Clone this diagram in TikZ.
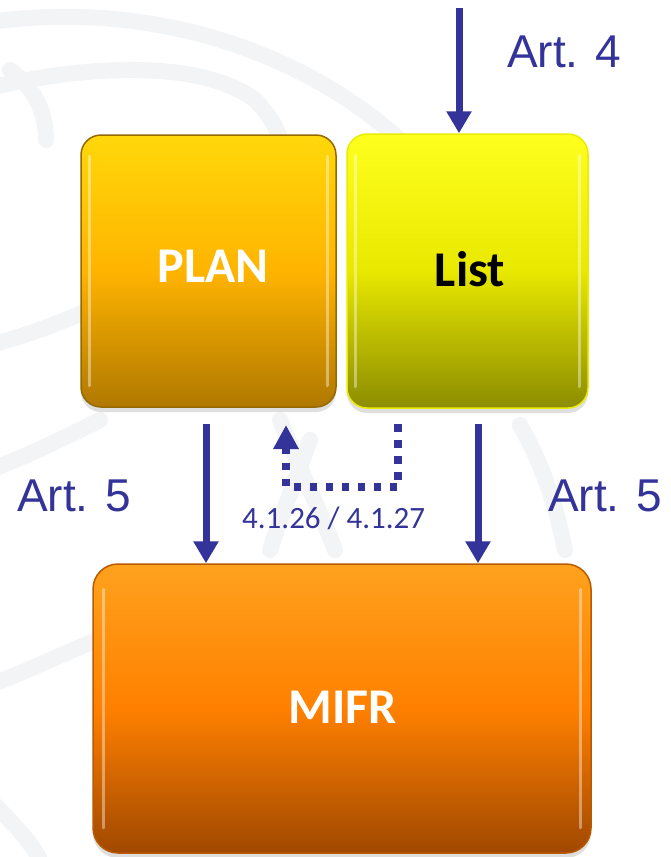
\documentclass[tikz,border=0pt]{standalone}
\usepackage{fontspec}
\setmainfont{Liberation Sans}
\newfontfamily\calfont{Carlito}
\usetikzlibrary{arrows.meta,shadows,calc}
\definecolor{artblue}{RGB}{51,51,153}
\definecolor{wm}{RGB}{243,244,246}
\definecolor{planT}{RGB}{255,216,10}
\definecolor{planM}{RGB}{255,180,0}
\definecolor{planB}{RGB}{176,120,0}
\definecolor{planD}{RGB}{150,105,0}
\definecolor{listT}{RGB}{255,255,30}
\definecolor{listM}{RGB}{232,232,0}
\definecolor{listB}{RGB}{140,140,0}
\definecolor{listD}{RGB}{235,235,0}
\definecolor{mifrT}{RGB}{255,162,30}
\definecolor{mifrM}{RGB}{255,128,0}
\definecolor{mifrB}{RGB}{160,72,0}
\definecolor{mifrD}{RGB}{185,90,0}
\tikzset{
  box/.style={rounded corners=20pt, line width=1.5pt, inner sep=0pt,
    drop shadow={shadow xshift=0pt, shadow yshift=-5pt, opacity=0.25}},
  boxtext/.style={font=\calfont\bfseries\fontsize{50}{56}\selectfont, anchor=base, inner sep=0pt},
  artlabel/.style={font=\fontsize{46}{50}\selectfont, text=artblue, anchor=base west, inner sep=0pt},
  arr/.style={draw=artblue, line width=7pt, -{Triangle[width=24pt,length=22pt]}},
  dotarr/.style={draw=artblue, line width=7.5pt, dash pattern=on 7.5pt off 8.5pt,
    -{Triangle[width=24pt,length=24pt,sep=4pt]}},
  wmline/.style={draw=wm, line width=16pt, line cap=round},
  gloss/.style={draw=white, line width=3pt, opacity=0.4, line cap=round}
}
\begin{document}
\begin{tikzpicture}[x=1pt,y=-1pt]
\useasboundingbox (0,0) rectangle (671,857);
\fill[white] (0,0) rectangle (671,857);
% watermark
\draw[wmline] (-10,22) .. controls (150,0) and (300,50) .. (400,140);
\draw[wmline] (-10,88) .. controls (80,66) and (200,58) .. (255,100) .. controls (270,115) and (278,130) .. (280,140);
\draw[wmline] (10,70) .. controls (40,92) and (46,120) .. (46,140);
\draw[wmline] (-10,345) .. controls (30,335) and (60,322) .. (85,312);
\draw[wmline] (-10,470) .. controls (30,455) and (70,435) .. (100,420);
\draw[wmline] (-10,685) .. controls (30,670) and (60,655) .. (92,642);
\draw[wmline] (-10,800) .. controls (10,820) and (30,840) .. (40,860);
\draw[wmline] (280,420) .. controls (300,470) and (320,510) .. (335,550);
\draw[wmline] (310,440) .. controls (295,480) and (280,520) .. (270,550);
\draw[wmline] (520,425) .. controls (540,460) and (555,500) .. (565,550);

% boxes
\node[box, draw=planD, top color=planT, bottom color=planB, middle color=planM,
  minimum width=255pt, minimum height=272pt] (plan) at (208.5,271) {};
\node[box, draw=listD, top color=listT, bottom color=listB, middle color=listM,
  minimum width=241pt, minimum height=274pt] (list) at (467.5,271) {};
\node[box, rounded corners=25pt, draw=mifrD, top color=mifrT, bottom color=mifrB, middle color=mifrM,
  minimum width=498pt, minimum height=289pt] (mifr) at (342,708.5) {};
\draw[gloss] ($(plan.north west)+(9,22)$) -- ($(plan.south west)+(9,-22)$);
\draw[gloss] ($(plan.north east)+(-9,22)$) -- ($(plan.south east)+(-9,-22)$);
\draw[gloss] ($(list.north west)+(9,22)$) -- ($(list.south west)+(9,-22)$);
\draw[gloss] ($(list.north east)+(-9,22)$) -- ($(list.south east)+(-9,-22)$);
\draw[gloss] ($(mifr.north west)+(11,26)$) -- ($(mifr.south west)+(11,-26)$);
\draw[gloss] ($(mifr.north east)+(-11,26)$) -- ($(mifr.south east)+(-11,-26)$);

\node[boxtext, text=white] (plantext) at (213,282) {PLAN};
\node[boxtext, text=black] (listtext) at (470,286) {List};
\node[boxtext, text=white] (mifrtext) at (343,723) {MIFR};

% arrows
\coordinate (topstart) at (459,8);
\draw[arr] (topstart) -- (topstart |- list.north);
\coordinate (l5) at (206,424);
\draw[arr] (l5) -- (l5 |- mifr.north);
\coordinate (r5) at (478,424);
\draw[arr] (r5) -- (r5 |- mifr.north);
\coordinate (d1) at (398,424);
\coordinate (d2) at (398,487);
\coordinate (d3) at (286,487);
\coordinate (d4) at (286,421);
\draw[dotarr] (d1) -- (d2) -- (d3) -- (d4);

% labels
\node[artlabel] (art4) at (507,67) {Art. 4};
\node[artlabel] (art5l) at (17,511) {Art. 5};
\node[artlabel] (art5r) at (548,511) {Art. 5};
\node[font=\calfont\fontsize{31}{34}\selectfont, text=artblue, anchor=base west, inner sep=0pt] (rule) at (242,528) {4.1.26 / 4.1.27};
\end{tikzpicture}
\end{document}
